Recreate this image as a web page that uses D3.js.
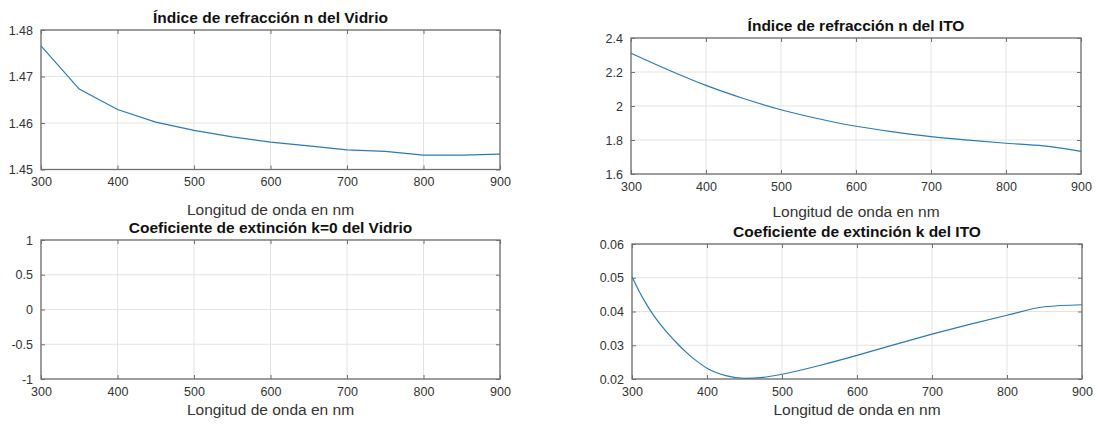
<!DOCTYPE html>
<html><head><meta charset="utf-8">
<script src="https://cdn.jsdelivr.net/npm/d3@7"></script>
<style>
body{margin:0;background:#fff;}
text{font-family:"Liberation Sans",Arial,sans-serif;}
</style></head>
<body><svg id="c" width="1096" height="426"></svg>
<script>
// ---- data ----
const xTicks = [300, 400, 500, 600, 700, 800, 900];

const glassWl = [300, 350, 400, 450, 500, 550, 600, 650, 700, 750, 800, 850, 900];
const glassN  = [1.4766, 1.4673, 1.4629, 1.4602, 1.4584, 1.4570, 1.4559, 1.4551, 1.4542, 1.4539, 1.4531, 1.4531, 1.4533];
const glassNTicks = [1.45, 1.46, 1.47, 1.48];

const glassKWl = [300, 900];
const glassK   = [null, null]; // k = 0, no visible line in reference
const glassKTicks = [-1, -0.5, 0, 0.5, 1];

const itoWl = [300, 350, 400, 450, 500, 550, 600, 650, 700, 750, 800, 850, 900];
const itoN  = [2.311, 2.212, 2.121, 2.044, 1.978, 1.925, 1.881, 1.848, 1.820, 1.799, 1.781, 1.765, 1.733];
const itoNTicks = [1.6, 1.8, 2.0, 2.2, 2.4];

const itoKWl = [300, 310, 320, 330, 340, 350, 360, 370, 380, 390, 400, 425, 450, 475, 500, 550, 600, 650, 700, 750, 800, 850, 900];
const itoK   = [0.0503, 0.0458, 0.0419, 0.0385, 0.0356, 0.0330, 0.0306, 0.0284, 0.0264, 0.0247, 0.0232, 0.0210, 0.0202, 0.0205, 0.0214, 0.0240, 0.0270, 0.0302, 0.0333, 0.0362, 0.0389, 0.0414, 0.0420];
const itoKTicks = [0.02, 0.03, 0.04, 0.05, 0.06];

const titles = [
  "Índice de refracción n del Vidrio",
  "Índice de refracción n del ITO",
  "Coeficiente de extinción k=0 del Vidrio",
  "Coeficiente de extinción k del ITO"
];
const xLabel = "Longitud de onda en nm";

// ---- layout ----
const panels = [
  {x0:41, x1:500, y0:30, y1:169.5, lab:215, wl:glassWl, v:glassN, yd:[1.45,1.48], yt:glassNTicks, fmt:d3.format(".2f"), title:titles[0], curve:d3.curveLinear},
  {x0:631, x1:1081, y0:38, y1:174, lab:217, wl:itoWl, v:itoN, yd:[1.6,2.4], yt:itoNTicks, fmt:d=>String(+d.toFixed(1)), title:titles[1], curve:d3.curveMonotoneX},
  {x0:41, x1:500, y0:240, y1:379, lab:415, wl:glassKWl, v:glassK, yd:[-1,1], yt:glassKTicks, fmt:d=>String(d), title:titles[2], curve:d3.curveLinear},
  {x0:632, x1:1082, y0:244, y1:379, lab:415, wl:itoKWl, v:itoK, yd:[0.02,0.06], yt:itoKTicks, fmt:d3.format(".2f"), title:titles[3], curve:d3.curveMonotoneX}
];

const svg = d3.select("#c");
const axisCol = "#707070", gridCol = "#e3e3e3", textCol = "#333", lineCol = "#2a7ab8";

panels.forEach(p => {
  const x = d3.scaleLinear().domain([300, 900]).range([p.x0, p.x1]);
  const y = d3.scaleLinear().domain(p.yd).range([p.y1, p.y0]);
  const g = svg.append("g");

  g.selectAll(".gx").data(xTicks).enter().append("line")
    .attr("x1", d => x(d)).attr("x2", d => x(d)).attr("y1", p.y0).attr("y2", p.y1)
    .attr("stroke", gridCol).attr("stroke-width", 1);
  g.selectAll(".gy").data(p.yt).enter().append("line")
    .attr("y1", d => y(d)).attr("y2", d => y(d)).attr("x1", p.x0).attr("x2", p.x1)
    .attr("stroke", gridCol).attr("stroke-width", 1);

  const pts = p.wl.map((w, i) => [w, p.v[i]]).filter(d => d[1] != null);
  if (pts.length) {
    g.append("path").datum(pts)
      .attr("d", d3.line().x(d => x(d[0])).y(d => y(d[1])).curve(p.curve))
      .attr("fill", "none").attr("stroke", lineCol).attr("stroke-width", 1.2);
  }

  const tl = 4;
  const bottom = d3.axisBottom(x).tickValues(xTicks).tickSizeInner(-tl).tickSizeOuter(0).tickPadding(8).tickFormat(d3.format("d"));
  const top = d3.axisTop(x).tickValues(xTicks).tickSizeInner(-tl).tickSizeOuter(0).tickFormat("");
  const left = d3.axisLeft(y).tickValues(p.yt).tickSizeInner(-tl).tickSizeOuter(0).tickPadding(8).tickFormat(p.fmt);
  const right = d3.axisRight(y).tickValues(p.yt).tickSizeInner(-tl).tickSizeOuter(0).tickFormat("");

  const styleAx = sel => {
    sel.select(".domain").remove();
    sel.selectAll("line").attr("stroke", axisCol);
    sel.selectAll("text").attr("fill", textCol).style("font-size", "12.5px").style("font-family", "'Liberation Sans', Arial, sans-serif");
  };
  g.append("g").attr("transform", `translate(0,${p.y1})`).call(bottom).call(styleAx);
  g.append("g").attr("transform", `translate(0,${p.y0})`).call(top).call(styleAx);
  g.append("g").attr("transform", `translate(${p.x0},0)`).call(left).call(styleAx);
  g.append("g").attr("transform", `translate(${p.x1},0)`).call(right).call(styleAx);

  g.append("rect").attr("x", p.x0).attr("y", p.y0).attr("width", p.x1 - p.x0).attr("height", p.y1 - p.y0)
    .attr("fill", "none").attr("stroke", axisCol).attr("stroke-width", 1.3);

  g.append("text").attr("x", (p.x0 + p.x1) / 2).attr("y", p.y0 - 7)
    .attr("text-anchor", "middle").attr("fill", "#111")
    .style("font-size", "15.5px").style("font-weight", "bold").text(p.title);

  g.append("text").attr("x", (p.x0 + p.x1) / 2).attr("y", p.lab)
    .attr("text-anchor", "middle").attr("fill", textCol)
    .style("font-size", "15.5px").text(xLabel);
});
</script>
</body></html>
